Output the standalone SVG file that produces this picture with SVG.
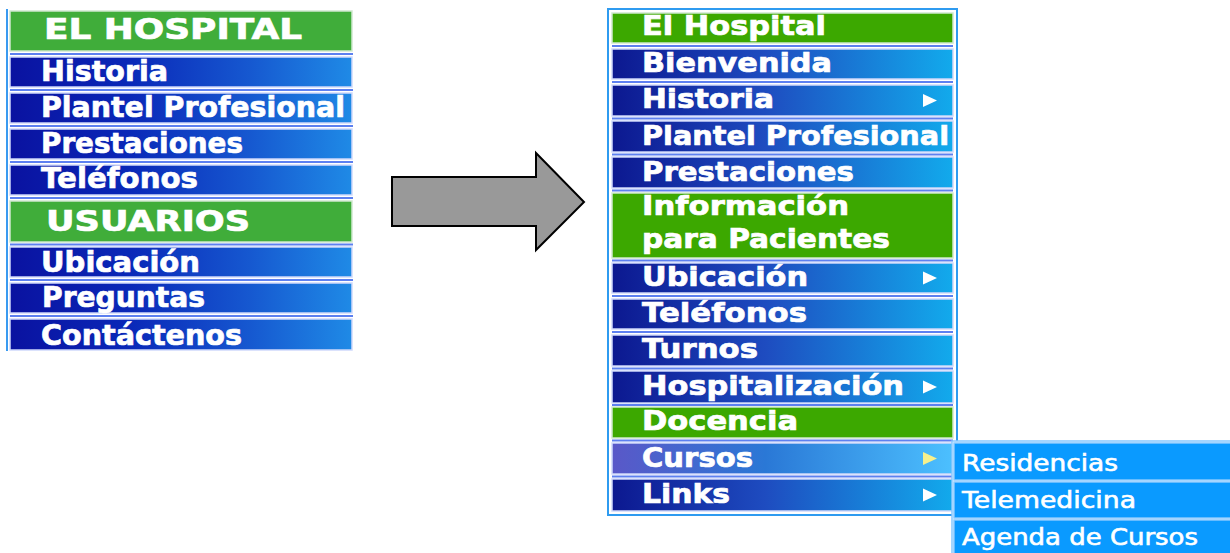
<svg xmlns="http://www.w3.org/2000/svg" width="1230" height="553" viewBox="0 0 1230 553">
<defs>
<linearGradient id="gL" x1="0" y1="0" x2="1" y2="0">
<stop offset="0" stop-color="#0a12a0"/><stop offset="0.35" stop-color="#0a28b8"/><stop offset="0.7" stop-color="#1658d0"/><stop offset="1" stop-color="#1f8ae6"/>
</linearGradient>
<linearGradient id="gR" x1="0" y1="0" x2="1" y2="0">
<stop offset="0" stop-color="#0c1890"/><stop offset="0.45" stop-color="#1e4cc0"/><stop offset="1" stop-color="#12aaec"/>
</linearGradient>
<linearGradient id="gH" x1="0" y1="0" x2="1" y2="0">
<stop offset="0" stop-color="#5a58c8"/><stop offset="0.45" stop-color="#2a78d6"/><stop offset="1" stop-color="#4cc0ff"/>
</linearGradient>
</defs>
<style>
.bg{fill:#ffffff}
.lit{fill:url(#gL);stroke:#cfd9fb;stroke-width:1.5}
.rit{fill:url(#gR);stroke:#cfd9fb;stroke-width:1.5}
.hov{fill:url(#gH);stroke:#cfd9fb;stroke-width:1.5}
.lgr{fill:#40ad3a;stroke:#cfe8cf;stroke-width:1.5}
.rgr{fill:#3ca800;stroke:#cfe8cf;stroke-width:1.5}
.sep{stroke:#5d80f0;stroke-width:2}
.t{font-family:"DejaVu Sans","Verdana",sans-serif;font-weight:bold;fill:#ffffff;stroke:#ffffff;stroke-width:0.7}
.tl{font-size:29px}
.tr{font-size:27px}
.sub{fill:#0a9aff;stroke:#86c8ff;stroke-width:1.5}
.ts{font-family:"DejaVu Sans",sans-serif;font-size:23px;fill:#ffffff;stroke:#ffffff;stroke-width:0.6}
.tri{fill:#ffffff}
.triy{fill:#f6f08c}
</style>
<rect class="bg" x="0" y="0" width="1230" height="553"/>

<g id="left-menu">
<line x1="7" y1="9" x2="7" y2="351" stroke="#3a9af0" stroke-width="2"/>
<line class="sep" x1="10" y1="54" x2="353" y2="54"/>
<line class="sep" x1="10" y1="90" x2="353" y2="90"/>
<line class="sep" x1="10" y1="126" x2="353" y2="126"/>
<line class="sep" x1="10" y1="162" x2="353" y2="162"/>
<line class="sep" x1="10" y1="198" x2="353" y2="198"/>
<line class="sep" x1="10" y1="244.5" x2="353" y2="244.5"/>
<line class="sep" x1="10" y1="280" x2="353" y2="280"/>
<line class="sep" x1="10" y1="316" x2="353" y2="316"/>
<g id="l-elhospital"><rect class="lgr" x="10" y="11" width="342" height="40"/><text class="t tl" x="44" y="39" textLength="258" lengthAdjust="spacingAndGlyphs">EL HOSPITAL</text></g>
<g id="l-historia"><rect class="lit" x="10" y="57" width="342" height="30"/><text class="t tl" x="41" y="81" textLength="127" lengthAdjust="spacingAndGlyphs">Historia</text></g>
<g id="l-plantel"><rect class="lit" x="10" y="93" width="342" height="30"/><text class="t tl" x="41" y="117" textLength="304" lengthAdjust="spacingAndGlyphs">Plantel Profesional</text></g>
<g id="l-prestaciones"><rect class="lit" x="10" y="129" width="342" height="30"/><text class="t tl" x="41" y="153" textLength="202" lengthAdjust="spacingAndGlyphs">Prestaciones</text></g>
<g id="l-telefonos"><rect class="lit" x="10" y="165" width="342" height="30"/><text class="t tl" x="41" y="188" textLength="157" lengthAdjust="spacingAndGlyphs">Teléfonos</text></g>
<g id="l-usuarios"><rect class="lgr" x="10" y="201" width="342" height="41"/><text class="t tl" x="46" y="231" textLength="204" lengthAdjust="spacingAndGlyphs">USUARIOS</text></g>
<g id="l-ubicacion"><rect class="lit" x="10" y="247" width="342" height="30"/><text class="t tl" x="41" y="272" textLength="159" lengthAdjust="spacingAndGlyphs">Ubicación</text></g>
<g id="l-preguntas"><rect class="lit" x="10" y="283" width="342" height="30"/><text class="t tl" x="42" y="307" textLength="163" lengthAdjust="spacingAndGlyphs">Preguntas</text></g>
<g id="l-contactenos"><rect class="lit" x="10" y="319" width="342" height="31"/><text class="t tl" x="41" y="345" textLength="201" lengthAdjust="spacingAndGlyphs">Contáctenos</text></g>
</g>

<g id="connectors">
<polygon points="392,177 536,177 536,153 584,202 536,250 536,226 392,226" fill="#999999" stroke="#000000" stroke-width="2" stroke-linejoin="miter"/>
</g>

<g id="right-menu">
<rect x="608" y="9" width="349" height="506" fill="#ffffff" stroke="#2f9bf0" stroke-width="2"/>
<line class="sep" x1="612" y1="46" x2="953" y2="46"/>
<line class="sep" x1="612" y1="82" x2="953" y2="82"/>
<line class="sep" x1="612" y1="118.5" x2="953" y2="118.5"/>
<line class="sep" x1="612" y1="154.5" x2="953" y2="154.5"/>
<line class="sep" x1="612" y1="190.5" x2="953" y2="190.5"/>
<line class="sep" x1="612" y1="260.5" x2="953" y2="260.5"/>
<line class="sep" x1="612" y1="296" x2="953" y2="296"/>
<line class="sep" x1="612" y1="332" x2="953" y2="332"/>
<line class="sep" x1="612" y1="368.5" x2="953" y2="368.5"/>
<line class="sep" x1="612" y1="405" x2="953" y2="405"/>
<line class="sep" x1="612" y1="440.5" x2="953" y2="440.5"/>
<line class="sep" x1="612" y1="476.5" x2="953" y2="476.5"/>
<g id="r-elhospital"><rect class="rgr" x="612" y="13" width="341" height="30"/><text class="t tr" x="642" y="35" textLength="184" lengthAdjust="spacingAndGlyphs">El Hospital</text></g>
<g id="r-bienvenida"><rect class="rit" x="612" y="49" width="341" height="30"/><text class="t tr" x="642" y="72" textLength="190" lengthAdjust="spacingAndGlyphs">Bienvenida</text></g>
<g id="r-historia"><rect class="rit" x="612" y="85" width="341" height="31"/><text class="t tr" x="642" y="108" textLength="132" lengthAdjust="spacingAndGlyphs">Historia</text><polygon class="tri" points="923,94 937,100.5 923,107"/></g>
<g id="r-plantel"><rect class="rit" x="612" y="121" width="341" height="31"/><text class="t tr" x="642" y="145" textLength="307" lengthAdjust="spacingAndGlyphs">Plantel Profesional</text></g>
<g id="r-prestaciones"><rect class="rit" x="612" y="157" width="341" height="31"/><text class="t tr" x="642" y="181" textLength="212" lengthAdjust="spacingAndGlyphs">Prestaciones</text></g>
<g id="r-informacion"><rect class="rgr" x="612" y="193" width="341" height="65"/><text class="t tr" x="642" y="215" textLength="207" lengthAdjust="spacingAndGlyphs">Información</text><text class="t tr" x="642" y="248" textLength="248" lengthAdjust="spacingAndGlyphs">para Pacientes</text></g>
<g id="r-ubicacion"><rect class="rit" x="612" y="263" width="341" height="30"/><text class="t tr" x="642" y="286" textLength="166" lengthAdjust="spacingAndGlyphs">Ubicación</text><polygon class="tri" points="923,271.5 937,278 923,284.5"/></g>
<g id="r-telefonos"><rect class="rit" x="612" y="299" width="341" height="30"/><text class="t tr" x="642" y="322" textLength="165" lengthAdjust="spacingAndGlyphs">Teléfonos</text></g>
<g id="r-turnos"><rect class="rit" x="612" y="335" width="341" height="31"/><text class="t tr" x="642" y="358" textLength="116" lengthAdjust="spacingAndGlyphs">Turnos</text></g>
<g id="r-hospitalizacion"><rect class="rit" x="612" y="371" width="341" height="32"/><text class="t tr" x="642" y="395" textLength="262" lengthAdjust="spacingAndGlyphs">Hospitalización</text><polygon class="tri" points="923,380.5 937,387 923,393.5"/></g>
<g id="r-docencia"><rect class="rgr" x="612" y="407" width="341" height="31"/><text class="t tr" x="642" y="430" textLength="156" lengthAdjust="spacingAndGlyphs">Docencia</text></g>
<g id="r-cursos"><rect class="hov" x="612" y="443" width="341" height="31"/><text class="t tr" x="642" y="467" textLength="111" lengthAdjust="spacingAndGlyphs">Cursos</text><polygon class="triy" points="923,452 937,458.5 923,465"/></g>
<g id="r-links"><rect class="rit" x="612" y="479" width="341" height="32"/><text class="t tr" x="642" y="503" textLength="88" lengthAdjust="spacingAndGlyphs">Links</text><polygon class="tri" points="923,488.5 937,495 923,501.5"/></g>
</g>

<g id="submenu">
<rect x="952" y="441" width="280" height="115" fill="#ffffff" stroke="#86c8ff" stroke-width="1.5"/>
<g id="s-residencias"><rect class="sub" x="954" y="443" width="278" height="37"/><text class="ts" x="962" y="471" textLength="156" lengthAdjust="spacingAndGlyphs">Residencias</text></g>
<g id="s-telemedicina"><rect class="sub" x="954" y="482" width="278" height="36"/><text class="ts" x="962" y="508" textLength="174" lengthAdjust="spacingAndGlyphs">Telemedicina</text></g>
<g id="s-agenda"><rect class="sub" x="954" y="520" width="278" height="36"/><text class="ts" x="962" y="545" textLength="236" lengthAdjust="spacingAndGlyphs">Agenda de Cursos</text></g>
</g>
</svg>
